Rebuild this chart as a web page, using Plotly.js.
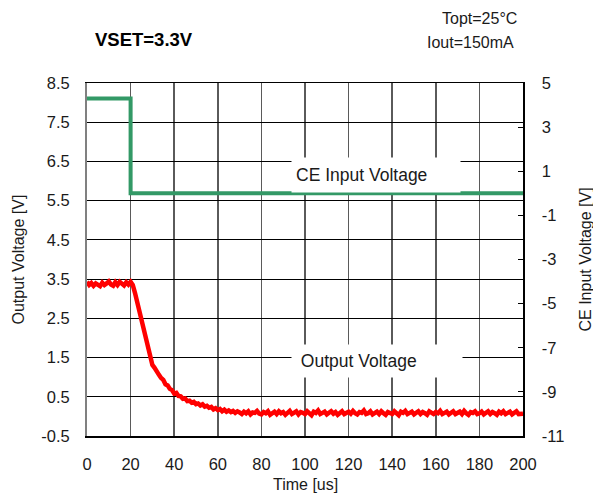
<!DOCTYPE html>
<html>
<head>
<meta charset="utf-8">
<script src="https://cdn.plot.ly/plotly-3.0.1.min.js"></script>
<style>html,body{margin:0;padding:0;background:#fff;}#chart{width:593px;height:493px;}</style>
</head>
<body>
<div id="chart"></div>
<script>
// Output voltage sampled every 1 us from 0 to 200 us
const outStart = 0;
const outStep = 1;
const outputVoltage = [
  3.43,3.35,3.40,3.33,3.39,3.36,3.32,3.41,3.35,3.39,
  3.44,3.36,3.33,3.42,3.35,3.43,3.37,3.34,3.42,3.36,
  3.43,3.35,3.15,2.92,2.70,2.48,2.20,1.95,1.70,1.45,
  1.31,1.24,1.12,1.06,0.98,0.93,0.82,0.79,0.70,0.67,
  0.58,0.60,0.52,0.51,0.45,0.46,0.39,0.40,0.35,0.37,
  0.31,0.33,0.28,0.31,0.25,0.27,0.22,0.24,0.18,0.21,
  0.16,0.19,0.13,0.17,0.12,0.15,0.11,0.14,0.09,0.13,
  0.10,0.06,0.12,0.08,0.13,0.05,0.10,0.09,0.14,0.07,
  0.05,0.11,0.08,0.13,0.04,0.09,0.12,0.06,0.13,0.08,
  0.11,0.04,0.09,0.14,0.06,0.08,0.13,0.05,0.11,0.09,
  0.06,0.13,0.08,0.03,0.12,0.09,0.15,0.06,0.09,0.12,
  0.05,0.09,0.13,0.07,0.11,0.04,0.10,0.13,0.06,0.09,
  0.12,0.07,0.14,0.08,0.05,0.11,0.09,0.15,0.06,0.08,
  0.13,0.05,0.09,0.12,0.06,0.13,0.08,0.04,0.11,0.09,
  0.06,0.13,0.08,0.03,0.12,0.09,0.14,0.06,0.09,0.12,
  0.05,0.09,0.13,0.06,0.11,0.08,0.04,0.13,0.09,0.06,
  0.11,0.08,0.14,0.06,0.09,0.12,0.05,0.09,0.13,0.06,
  0.09,0.12,0.06,0.14,0.08,0.04,0.11,0.09,0.13,0.06,
  0.08,0.12,0.05,0.09,0.13,0.06,0.11,0.08,0.04,0.12,
  0.08,0.13,0.06,0.09,0.12,0.05,0.09,0.13,0.06,0.08,
  0.07
];
// CE input voltage (step)
const ceTime = [0, 20, 20, 200];
const ceVoltage = [4.3, 4.3, 0, 0];

const xTicks = [0,20,40,60,80,100,120,140,160,180,200];
const yLeftTicks = [-0.5,0.5,1.5,2.5,3.5,4.5,5.5,6.5,7.5,8.5];
const yRightTicks = [-11,-9,-7,-5,-3,-1,1,3,5];

const FONT = 'Liberation Sans, Arial, sans-serif';
const TXT = '#1a1a1a';

const traces = [
  {
    type: 'scatter', mode: 'lines',
    x0: outStart, dx: outStep, y: outputVoltage,
    line: {color: '#ff0000', width: 4.5},
    yaxis: 'y', showlegend: false
  },
  {
    type: 'scatter', mode: 'lines',
    x: ceTime, y: ceVoltage,
    line: {color: '#339966', width: 4},
    yaxis: 'y2', showlegend: false
  }
];

const layout = {
  width: 593, height: 493,
  margin: {l: 87, r: 70, t: 83, b: 57},
  paper_bgcolor: '#fff', plot_bgcolor: '#fff',
  font: {family: FONT, size: 16, color: TXT},
  showlegend: false,
  xaxis: {
    range: [0, 200], tickvals: xTicks, ticktext: xTicks.map(String),
    showgrid: true, gridcolor: '#5a5a5a', gridwidth: 1.5,
    zeroline: false, showline: true, linecolor: '#000', linewidth: 1.5, mirror: true,
    ticks: '', ticklabelstandoff: 13,
    tickfont: {family: FONT, size: 16.5, color: TXT}
  },
  yaxis: {
    range: [-0.5, 8.5], tickvals: yLeftTicks, ticktext: yLeftTicks.map(v => v.toFixed(1)),
    showgrid: true, gridcolor: '#000', gridwidth: 1,
    zeroline: false, showline: true, linecolor: '#808080', linewidth: 2,
    ticks: 'inside', ticklen: 5, tickcolor: '#000',
    ticklabelstandoff: 12,
    tickfont: {family: FONT, size: 16.5, color: TXT}
  },
  yaxis2: {
    range: [-11, 5], tickvals: yRightTicks, ticktext: yRightTicks.map(String),
    overlaying: 'y', side: 'right', showgrid: false, zeroline: false,
    showline: true, linecolor: '#000', linewidth: 1.5,
    ticks: 'inside', ticklen: 5, tickcolor: '#000',
    ticklabelstandoff: 14,
    tickfont: {family: FONT, size: 16.5, color: TXT}
  },
  annotations: [
    {text: 'CE Input Voltage', xref: 'paper', yref: 'paper',
     x: (376 - 87) / 436, y: (436 - 175) / 353, xanchor: 'center', yanchor: 'middle',
     width: 160, height: 26, borderpad: 4, align: 'left', bgcolor: '#fff',
     showarrow: false, font: {family: FONT, size: 17.5, color: TXT}},
    {text: ' Output Voltage', xref: 'paper', yref: 'paper',
     x: (377 - 87) / 436, y: (436 - 361) / 353, xanchor: 'center', yanchor: 'middle',
     width: 162, height: 24, borderpad: 4, align: 'left', bgcolor: '#fff',
     showarrow: false, font: {family: FONT, size: 17.5, color: TXT}},
    {text: 'Output Voltage [V]', xref: 'paper', yref: 'paper',
     x: (18 - 87) / 436, y: 0.5, xanchor: 'center', yanchor: 'middle', textangle: -90,
     showarrow: false, font: {family: FONT, size: 16, color: TXT}},
    {text: 'CE Input Voltage [V]', xref: 'paper', yref: 'paper',
     x: (585 - 87) / 436, y: 0.5, xanchor: 'center', yanchor: 'middle', textangle: -90,
     showarrow: false, font: {family: FONT, size: 16, color: TXT}},
    {text: 'Time [us]', xref: 'paper', yref: 'paper',
     x: 0.5, y: (436 - 484) / 353, xanchor: 'center', yanchor: 'middle',
     showarrow: false, font: {family: FONT, size: 16, color: TXT}},
    {text: '<b>VSET=3.3V</b>', xref: 'paper', yref: 'paper',
     x: (93 - 87) / 436, y: (436 - 39) / 353, xanchor: 'left', yanchor: 'middle',
     showarrow: false, font: {family: FONT, size: 18.5, color: '#000'}},
    {text: 'Topt=25°C', xref: 'paper', yref: 'paper',
     x: (519 - 87) / 436, y: (436 - 19) / 353, xanchor: 'right', yanchor: 'middle',
     showarrow: false, font: {family: FONT, size: 16, color: TXT}},
    {text: 'Iout=150mA', xref: 'paper', yref: 'paper',
     x: (516 - 87) / 436, y: (436 - 42) / 353, xanchor: 'right', yanchor: 'middle',
     showarrow: false, font: {family: FONT, size: 16, color: TXT}}
  ]
};

Plotly.newPlot('chart', traces, layout, {displayModeBar: false, staticPlot: true});
</script>
</body>
</html>
